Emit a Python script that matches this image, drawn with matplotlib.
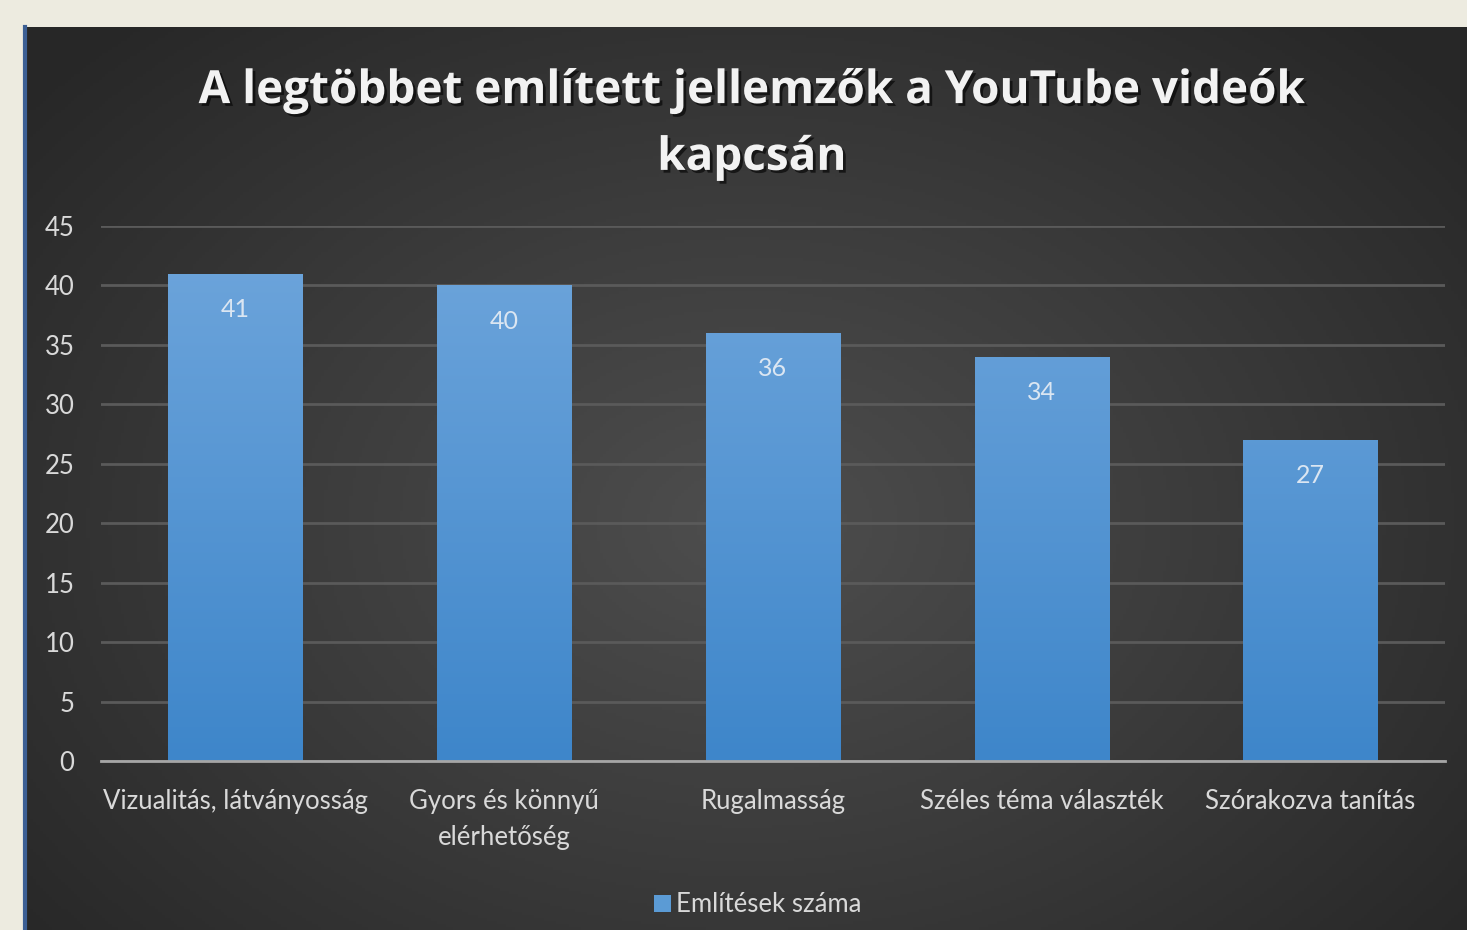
import numpy as np
import matplotlib
matplotlib.use("Agg")
import matplotlib.pyplot as plt
import matplotlib.patheffects as pe
from matplotlib.colors import LinearSegmentedColormap

plt.rcParams["font.family"] = ["Lato", "DejaVu Sans"]

# adatok
categories = ["Vizualitás, látványosság", "Gyors és könnyű\nelérhetőség",
              "Rugalmasság", "Széles téma választék", "Szórakozva tanítás"]
values = [41, 40, 36, 34, 27]
yticks = [0, 5, 10, 15, 20, 25, 30, 35, 40, 45]
title = "A legtöbbet említett jellemzők a YouTube videók\nkapcsán"
series_name = "Említések száma"

W, H = 1467, 930
fig = plt.figure(figsize=(W / 100, H / 100), dpi=100)
fig.patch.set_facecolor("#edebe0")

# sötét panel radiális színátmenettel
bg = fig.add_axes([27 / W, 0, 1 - 27 / W, 1 - 27 / H])
bg.set_axis_off()
yy, xx = np.mgrid[-1:1:300j, -1:1:460j]
r = np.sqrt((xx / 1.05) ** 2 + ((yy - 0.1) / 1.2) ** 2)
bg_cmap = LinearSegmentedColormap.from_list("bg", ["#4e4e4e", "#3b3b3b", "#272727"])
bg.imshow(r, cmap=bg_cmap, aspect="auto", extent=[0, 1, 0, 1], vmin=0, vmax=1.25)
bg.set_xlim(0, 1)
bg.set_ylim(0, 1)
# kék bal szegély
fig.add_artist(plt.Line2D([24.5 / W, 24.5 / W], [0, 1 - 27 / H], color="#3c5f94", lw=3))

ax = fig.add_axes([101 / W, 1 - 761 / H, (1445 - 101) / W, (761 - 226) / H])
ax.patch.set_alpha(0)
x = np.arange(len(categories))
bars = ax.bar(x, values, width=0.5, color="#5b9bd5", zorder=3)

bar_cmap = LinearSegmentedColormap.from_list("bar", ["#3e86ca", "#6fa6dc"])
grad = np.linspace(0, 1, 256).reshape(-1, 1)
for b in bars:
    b.set_facecolor("none")
    im = ax.imshow(grad, cmap=bar_cmap, origin="lower", aspect="auto",
                   extent=[b.get_x(), b.get_x() + b.get_width(), 0, 45], zorder=3)
    im.set_clip_path(b)

for xi, v in zip(x, values):
    ax.text(xi, v - 3.0, str(v), ha="center", va="center", color="#dbe6f2", fontsize=18)

ax.set_xlim(-0.5, len(categories) - 0.5)
ax.set_ylim(0, 45)
ax.set_yticks(yticks)
ax.set_xticks(x)
ax.set_xticklabels(categories, linespacing=1.55)
ax.grid(axis="y", color="#5a5a5a", lw=2, zorder=0)
ax.tick_params(length=0, colors="#d9d9d9", labelsize=18.5)
ax.tick_params(axis="x", pad=20)
ax.tick_params(axis="y", pad=19)
for s in ["top", "right", "left"]:
    ax.spines[s].set_visible(False)
ax.spines["bottom"].set_color("#a6a6a6")
ax.spines["bottom"].set_linewidth(2)
ax.spines["bottom"].set_zorder(4)

fig.text(752 / W, 1 - 124 / H, title, ha="center", va="center", color="#f2f2f2",
         fontsize=33, fontweight="bold", family=["Open Sans", "DejaVu Sans"], linespacing=1.55,
         path_effects=[pe.withSimplePatchShadow(offset=(2, -2), shadow_rgbFace="black", alpha=0.6)])

leg = ax.legend([bars[0]], [series_name], loc="center",
                bbox_to_anchor=((758 - 101) / (1445 - 101), (761 - 905) / (761 - 226)),
                frameon=False, fontsize=18.5, labelcolor="#d9d9d9", handlelength=0.65,
                handleheight=0.65, handletextpad=0.2)
leg.legend_handles[0].set_facecolor("#5b9bd5")

fig.savefig("out.png", dpi=100, facecolor=fig.get_facecolor())
